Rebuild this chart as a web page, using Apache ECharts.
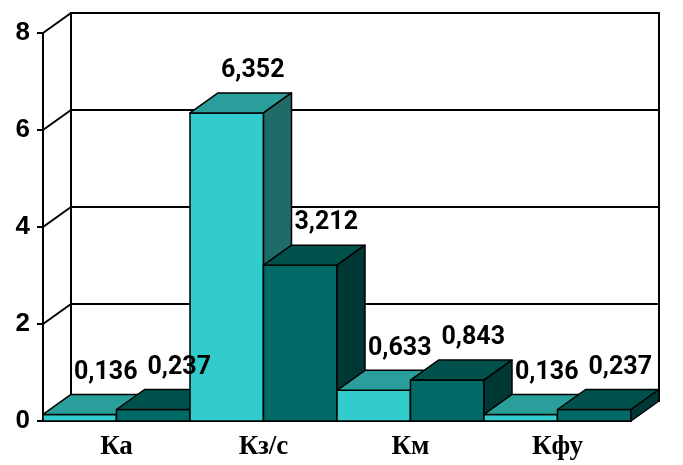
<!DOCTYPE html>
<html>
<head>
<meta charset="utf-8">
<script src="https://cdn.jsdelivr.net/npm/echarts@6/dist/echarts.min.js"></script>
<style>
  html, body { margin: 0; padding: 0; background: #fff; }
  #main { width: 683px; height: 465px; }
</style>
</head>
<body>
<div id="main"></div>
<script>
// data
var categories = ['Ка', 'Кз/с', 'Км', 'Кфу'];
var seriesA = [0.136, 6.352, 0.633, 0.136];
var seriesB = [0.237, 3.212, 0.843, 0.237];
var yTicks = [0, 2, 4, 6, 8];

// pseudo 3d depth (px)
var DX = 28, DY = 20;
var colorsA = { front: '#33cccc', top: '#2a9e9a', side: '#1e6b68' };
var colorsB = { front: '#006b66', top: '#00504c', side: '#003836' };

var barData = [];
categories.forEach(function (c, i) {
  barData.push([i, seriesA[i], 0]);
  barData.push([i, seriesB[i], 1]);
});

function fmt(v) {
  return v.toFixed(3).replace('.', ',');
}

function barBox(api) {
  var cat = api.value(0), val = api.value(1), k = api.value(2);
  var band = api.size([1, 0])[0];
  var w = band / 2;
  var base = api.coord([cat, 0]);
  var top = api.coord([cat, val]);
  var x0 = base[0] - band / 2 + k * w;
  return { x0: x0, x1: x0 + w, w: w, yb: base[1], yt: top[1], k: k, val: val };
}

function renderBar(params, api) {
  var b = barBox(api);
  var x0 = b.x0, x1 = b.x1, yt = b.yt, yb = b.yb;
  var col = b.k === 0 ? colorsA : colorsB;
  var line = { stroke: '#000', lineWidth: 1.5, lineJoin: 'round' };
  return {
    type: 'group',
    children: [
      { type: 'rect', shape: { x: x0, y: yt, width: b.w, height: yb - yt },
        style: Object.assign({ fill: col.front }, line) },
      { type: 'polygon', shape: { points: [[x0, yt], [x0 + DX, yt - DY], [x1 + DX, yt - DY], [x1, yt]] },
        style: Object.assign({ fill: col.top }, line) },
      { type: 'polygon', shape: { points: [[x1, yt], [x1 + DX, yt - DY], [x1 + DX, yb - DY], [x1, yb]] },
        style: Object.assign({ fill: col.side }, line) }
    ]
  };
}

function renderLabel(params, api) {
  var b = barBox(api);
  return {
    type: 'text',
    style: { text: fmt(b.val), x: b.x0 + b.w / 2 + 26, y: b.yt - DY - 22,
      align: 'center', verticalAlign: 'middle', fill: '#000',
      font: 'bold 25px Roboto' }
  };
}

function renderWallLine(params, api) {
  var y = api.coord([0, api.value(1)])[1];
  var x = params.coordSys.x;
  return {
    type: 'line',
    shape: { x1: x, y1: y, x2: x + DX, y2: y - DY },
    style: { stroke: '#000', lineWidth: 2 }
  };
}

var chart = echarts.init(document.getElementById('main'));
chart.setOption({
  animation: false,
  grid: [
    { left: 43, right: 52, top: 33, bottom: 44 },
    { left: 43 + DX, right: 52 - DX, top: 33 - DY, bottom: 44 + DY,
      show: true, borderColor: '#000', borderWidth: 2, backgroundColor: 'transparent' }
  ],
  xAxis: [
    { type: 'category', gridIndex: 0, data: categories,
      axisLine: { lineStyle: { color: '#000', width: 2 } },
      axisTick: { length: 6, lineStyle: { color: '#000', width: 2 } },
      axisLabel: { color: '#000', margin: 13, fontFamily: 'Liberation Serif',
        fontWeight: 'bold', fontSize: 27 } },
    { type: 'category', gridIndex: 1, data: categories, show: false }
  ],
  yAxis: [
    { type: 'value', gridIndex: 0, min: 0, max: 8, interval: 2,
      axisLine: { show: true, lineStyle: { color: '#000', width: 2 } },
      axisTick: { show: true, length: 6, lineStyle: { color: '#000', width: 2 } },
      splitLine: { show: false },
      axisLabel: { color: '#000', margin: 13, fontFamily: 'Liberation Sans',
        fontWeight: 'bold', fontSize: 26 } },
    { type: 'value', gridIndex: 1, min: 0, max: 8, interval: 2,
      axisLine: { show: false }, axisTick: { show: false }, axisLabel: { show: false },
      splitLine: { show: true, lineStyle: { color: '#000', width: 2 } } }
  ],
  series: [
    { type: 'custom', xAxisIndex: 0, yAxisIndex: 0, z: 1,
      renderItem: renderWallLine,
      data: yTicks.map(function (v) { return [0, v]; }) },
    { type: 'custom', xAxisIndex: 0, yAxisIndex: 0, z: 3,
      renderItem: renderBar,
      encode: { x: 0, y: 1 },
      data: barData },
    { type: 'custom', xAxisIndex: 0, yAxisIndex: 0, z: 5,
      renderItem: renderLabel,
      encode: { x: 0, y: 1 },
      data: barData }
  ]
});
</script>
</body>
</html>
